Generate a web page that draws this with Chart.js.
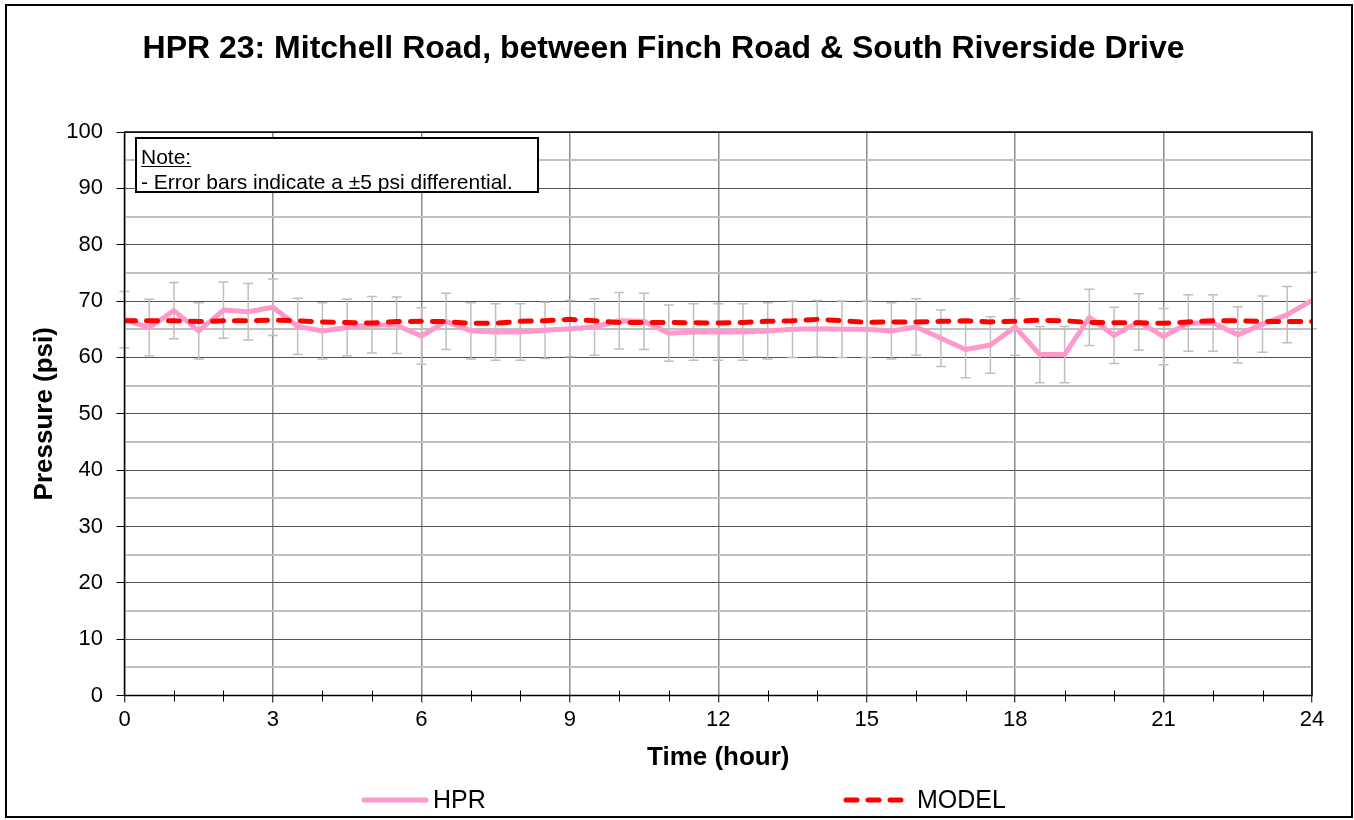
<!DOCTYPE html>
<html><head><meta charset="utf-8">
<script src="https://cdn.jsdelivr.net/npm/chart.js@4.4.1/dist/chart.umd.min.js"></script>
<style>html,body{margin:0;padding:0;background:#fff;}#wrap{width:1354px;height:820px;}</style>
</head><body><div id="wrap"><canvas id="c" width="1354" height="820"></canvas></div>
<script>
const titleText = 'HPR 23: Mitchell Road, between Finch Road & South Riverside Drive';
const hours = [0,0.5,1,1.5,2,2.5,3,3.5,4,4.5,5,5.5,6,6.5,7,7.5,8,8.5,9,9.5,10,10.5,11,11.5,12,12.5,13,13.5,14,14.5,15,15.5,16,16.5,17,17.5,18,18.5,19,19.5,20,20.5,21,21.5,22,22.5,23,23.5,24];
const hprValues = [66.7,65.3,68.3,64.7,68.4,68.1,68.9,65.5,64.7,65.3,65.8,65.7,63.8,66.4,64.7,64.5,64.5,64.8,65.1,65.4,66.5,66.4,64.3,64.5,64.5,64.5,64.7,65.0,65.1,65.0,65.0,64.7,65.4,63.4,61.4,62.2,65.4,60.5,60.5,67.1,63.9,66.3,63.7,66.1,66.1,64.0,65.9,67.6,70.1];
const modelValues = [66.5,66.5,66.5,66.35,66.5,66.5,66.6,66.5,66.3,66.2,66.1,66.35,66.4,66.35,66.05,66.05,66.4,66.5,66.75,66.5,66.2,66.2,66.2,66.15,66.1,66.2,66.4,66.5,66.75,66.5,66.2,66.3,66.3,66.4,66.5,66.3,66.4,66.6,66.5,66.2,66.15,66.15,66.05,66.3,66.5,66.5,66.4,66.35,66.35];
const errorHalfRange = 5;
const xTickValues = [0,3,6,9,12,15,18,21,24];
const xMinorTickValues = [1,2,4,5,7,8,10,11,13,14,16,17,19,20,22,23];
const yTickValues = [0,10,20,30,40,50,60,70,80,90,100];
const seriesNames = ['HPR','MODEL'];
const noteLines = ['Note:','- Error bars indicate a \u00b15 psi differential.'];

const FONT = "'Liberation Sans', Arial, Helvetica, sans-serif";
Chart.defaults.font.family = FONT;
Chart.defaults.color = '#000';

const PINK = '#ff99cc', RED = '#ff0000';

const decor = {
  id: 'decor',
  beforeDraw(chart) {
    const ctx = chart.ctx;
    ctx.save(); ctx.fillStyle = '#fff'; ctx.fillRect(0,0,chart.width,chart.height); ctx.restore();
  },
  beforeDatasetsDraw(chart) {
    const ctx = chart.ctx, xs = chart.scales.x, ys = chart.scales.y;
    ctx.save();
    ctx.strokeStyle = '#bfbfbf'; ctx.lineWidth = 1.5;
    for (let i = 0; i < hours.length; i++) {
      const px = xs.getPixelForValue(hours[i]);
      const t = ys.getPixelForValue(hprValues[i] + errorHalfRange);
      const b = ys.getPixelForValue(hprValues[i] - errorHalfRange);
      ctx.beginPath();
      ctx.moveTo(px, t); ctx.lineTo(px, b);
      ctx.moveTo(px - 5, t); ctx.lineTo(px + 5, t);
      ctx.moveTo(px - 5, b); ctx.lineTo(px + 5, b);
      ctx.stroke();
    }
    ctx.restore();
  },
  afterDatasetsDraw(chart) {
    const ctx = chart.ctx, a = chart.chartArea, xs = chart.scales.x;
    ctx.save();
    ctx.strokeStyle = '#000'; ctx.lineWidth = 1.5;
    ctx.strokeRect(a.left, a.top, a.right - a.left, a.bottom - a.top);
    ctx.lineWidth = 1;
    ctx.beginPath();
    xMinorTickValues.forEach(h => {
      const px = Math.round(xs.getPixelForValue(h)) + 0.5;
      ctx.moveTo(px, a.bottom - 5); ctx.lineTo(px, a.bottom + 6);
    });
    ctx.stroke();
    ctx.restore();
  },
  afterDraw(chart) {
    const ctx = chart.ctx, a = chart.chartArea;
    ctx.save();
    const nx = a.left + 11.5, ny = a.top + 6;
    ctx.fillStyle = '#fff';
    ctx.fillRect(nx, ny, 402, 54);
    ctx.strokeStyle = '#000'; ctx.lineWidth = 2;
    ctx.strokeRect(nx, ny, 402, 54);
    ctx.fillStyle = '#000';
    ctx.font = '21px ' + FONT;
    ctx.textAlign = 'left'; ctx.textBaseline = 'alphabetic';
    ctx.fillText(noteLines[0], nx + 5, ny + 26);
    const w = ctx.measureText(noteLines[0]).width;
    ctx.lineWidth = 1.2;
    ctx.beginPath(); ctx.moveTo(nx + 5, ny + 28.5); ctx.lineTo(nx + 5 + w, ny + 28.5); ctx.stroke();
    ctx.fillText(noteLines[1], nx + 5, ny + 51);
    const ly = 800;
    const ds = chart.data.datasets;
    ctx.lineCap = 'round';
    ctx.strokeStyle = ds[0].borderColor; ctx.lineWidth = 5;
    ctx.beginPath(); ctx.moveTo(364, ly); ctx.lineTo(426, ly); ctx.stroke();
    ctx.strokeStyle = ds[1].borderColor; ctx.setLineDash([11, 11]);
    ctx.beginPath(); ctx.moveTo(846, ly); ctx.lineTo(912, ly); ctx.stroke();
    ctx.setLineDash([]);
    ctx.font = '25px ' + FONT; ctx.textBaseline = 'middle'; ctx.fillStyle = '#000';
    ctx.fillText(ds[0].label, 433, ly + 1);
    ctx.fillText(ds[1].label, 917, ly + 1);
    ctx.strokeStyle = '#000'; ctx.lineWidth = 2;
    ctx.strokeRect(6, 5, 1346, 812);
    ctx.restore();
  }
};

new Chart(document.getElementById('c'), {
  type: 'line',
  data: {
    datasets: [
      { label: seriesNames[0], data: hours.map((h, i) => ({x: h, y: hprValues[i]})),
        borderColor: PINK, backgroundColor: PINK, borderWidth: 5, pointRadius: 0, tension: 0, order: 1, borderJoinStyle: 'round' },
      { label: seriesNames[1], data: hours.map((h, i) => ({x: h, y: modelValues[i]})),
        borderColor: RED, backgroundColor: RED, borderWidth: 5, borderDash: [11, 11], borderCapStyle: 'round', pointRadius: 0, tension: 0, order: 0 }
    ]
  },
  options: {
    responsive: false, animation: false, maintainAspectRatio: false,
    layout: { padding: { left: 15, right: 42, top: 0, bottom: 0 } },
    plugins: {
      legend: { display: false },
      tooltip: { enabled: false },
      title: { display: true, text: titleText, color: '#000', font: { size: 32, weight: 'bold' }, padding: { top: 29.5, bottom: 64.1 } }
    },
    scales: {
      x: {
        type: 'linear', min: 0, max: 24,
        afterFit: s => { s.height = 124.5; },
        afterBuildTicks: s => { s.ticks = xTickValues.map(v => ({value: v})); },
        ticks: { font: { size: 22 }, padding: 4, maxRotation: 0, autoSkip: false },
        grid: { color: '#8c8c8c', lineWidth: 1.5, tickColor: '#000', tickLength: 7, tickWidth: 1 },
        border: { display: false },
        title: { display: true, text: 'Time (hour)', font: { size: 26, weight: 'bold' }, padding: { top: 0, bottom: 46.4 } }
      },
      y: {
        type: 'linear', min: 0, max: 100,
        afterFit: s => { s.width = 109.5; },
        ticks: { stepSize: 5, maxTicksLimit: 30, autoSkip: false, font: { size: 22 }, padding: 13.5, callback: v => (yTickValues.includes(v) ? v : '') },
        grid: {
          color: c => (c.tick && yTickValues.includes(c.tick.value)) ? '#555' : '#c0c0c0',
          lineWidth: c => (c.tick && yTickValues.includes(c.tick.value)) ? 1 : 2,
          tickColor: c => (c.tick && yTickValues.includes(c.tick.value)) ? '#000' : 'rgba(0,0,0,0)',
          tickLength: 8
        },
        border: { display: false },
        title: { display: true, text: 'Pressure (psi)', font: { size: 26, weight: 'bold' }, padding: { top: 14.4, bottom: 0 } }
      }
    }
  },
  plugins: [decor]
});
</script>
</body></html>
